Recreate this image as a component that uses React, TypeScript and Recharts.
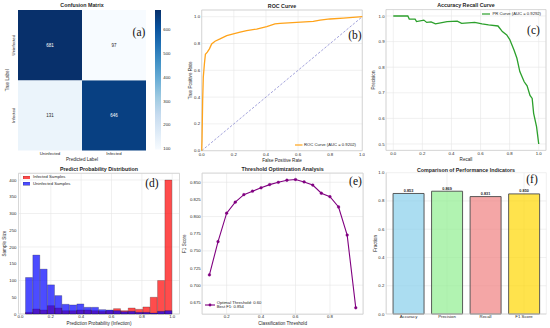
import React from 'react';
import {
  BarChart, Bar, LineChart, Line, XAxis, YAxis, CartesianGrid,
  Cell, LabelList, ReferenceArea, Legend,
} from 'recharts';

const FONT = '"Liberation Sans", Arial, Helvetica, sans-serif';
const TXT = '#262626';
const GRID = '#e6e6e6';
const FRAME = '#d0d0d0';
const TICK_FS = 4.3;
const LABEL_FS = 4.6;
const TITLE_FS = 5.3;
const LEG_FS = 4.2;

// ---------------- (a) confusion matrix ----------------
const cmLabels = ['Uninfected', 'Infected'];
const cmTrueUninfected = [681, 97];
const cmTrueInfected = [131, 646];
const cbMin = 97;
const cbMax = 681;
const cbTicks = [100, 200, 300, 400, 500, 600];

// ---------------- (b) ROC ----------------
const rocFpr = [0, 0.002, 0.006, 0.010, 0.017, 0.023, 0.035, 0.048, 0.062, 0.083, 0.114, 0.156, 0.197, 0.239, 0.280, 0.342, 0.405, 0.456, 0.488, 0.591, 0.695, 0.737, 0.799, 0.882, 1.0];
const rocTpr = [0, 0.08, 0.376, 0.55, 0.65, 0.72, 0.735, 0.76, 0.797, 0.817, 0.834, 0.859, 0.871, 0.884, 0.896, 0.908, 0.926, 0.946, 0.95, 0.958, 0.965, 0.975, 0.983, 0.99, 1.0];
const rocAucText = 'ROC Curve (AUC = 0.9202)';
const unitTicks = [0, 0.2, 0.4, 0.6, 0.8, 1.0];

// ---------------- (c) precision-recall ----------------
const prRecall = [0, 0.01, 0.1, 0.11, 0.15, 0.16, 0.21, 0.23, 0.26, 0.29, 0.37, 0.44, 0.47, 0.56, 0.61, 0.655, 0.72, 0.75, 0.78, 0.80, 0.83, 0.85, 0.87, 0.90, 0.92, 0.94, 0.955, 0.965, 0.985, 1.0];
const prPrecision = [1.0, 1.0, 1.0, 0.988, 0.988, 0.978, 0.984, 0.975, 0.977, 0.969, 0.978, 0.98, 0.971, 0.975, 0.969, 0.965, 0.961, 0.939, 0.926, 0.909, 0.867, 0.835, 0.783, 0.743, 0.727, 0.69, 0.678, 0.62, 0.568, 0.5];
const prAucText = 'PR Curve (AUC = 0.9292)';
const prYTicks = [0.5, 0.6, 0.7, 0.8, 0.9, 1.0];

// ---------------- (d) histogram ----------------
const histBinCenters = [0.0572, 0.1055, 0.1539, 0.2022, 0.2506, 0.2989, 0.3473, 0.3956, 0.4440, 0.4923, 0.5407, 0.5890, 0.6374, 0.6857, 0.7341, 0.7824, 0.8308, 0.8791, 0.9275, 0.9758];
const histInfected = [5, 15, 12, 25, 18, 10, 10, 12, 12, 10, 8, 10, 16, 10, 18, 14, 21, 50, 100, 400];
const histUninfected = [109, 176, 134, 87, 55, 29, 27, 30, 20, 20, 13, 12, 10, 7, 8, 5, 5, 3, 8, 10];
const histYTicks = [0, 50, 100, 150, 200, 250, 300, 350, 400];

// ---------------- (e) threshold ----------------
const thresholds = [0.10, 0.15, 0.20, 0.25, 0.30, 0.35, 0.40, 0.45, 0.50, 0.55, 0.60, 0.65, 0.70, 0.75, 0.80, 0.85, 0.90, 0.95];
const f1Scores = [0.715, 0.7635, 0.805, 0.821, 0.832, 0.837, 0.842, 0.8466, 0.850, 0.853, 0.854, 0.8505, 0.846, 0.834, 0.829, 0.814, 0.773, 0.667];
const thXTicks = [0.2, 0.4, 0.6, 0.8];
const thYTicks = [0.675, 0.700, 0.725, 0.750, 0.775, 0.800, 0.825, 0.850];

// ---------------- (f) metrics ----------------
const metricNames = ['Accuracy', 'Precision', 'Recall', 'F1 Score'];
const metricValues = [0.853, 0.869, 0.831, 0.850];
const metricColors = ['#87ceeb', '#90ee90', '#f08080', '#ffd700'];

// ---------------- helpers ----------------
const bluesStops = ['#f7fbff', '#deebf7', '#c6dbef', '#9ecae1', '#6baed6', '#4292c6', '#2171b5', '#08519c', '#08306b'];
const hexToRgb = (h: string) => [1, 3, 5].map((i) => parseInt(h.slice(i, i + 2), 16));
const blues = (v: number) => {
  const t = Math.max(0, Math.min(1, (v - cbMin) / (cbMax - cbMin)));
  const p = t * (bluesStops.length - 1);
  const i = Math.min(bluesStops.length - 2, Math.floor(p));
  const f = p - i;
  const a = hexToRgb(bluesStops[i]);
  const b = hexToRgb(bluesStops[i + 1]);
  const c = a.map((x, k) => Math.round(x + (b[k] - x) * f));
  return `rgb(${c[0]},${c[1]},${c[2]})`;
};

const tickStyle = { fontSize: TICK_FS, fill: TXT, fontFamily: FONT };
const fmt1 = (v: number) => Number(v).toFixed(1);

const xLabel = (value: string, offset: number) => ({
  value, position: 'insideBottom' as const, offset,
  style: { fontSize: LABEL_FS, fill: TXT, fontFamily: FONT },
});
const yLabel = (value: string, offset: number) => ({
  value, angle: -90, position: 'insideLeft' as const, offset,
  style: { fontSize: LABEL_FS, fill: TXT, fontFamily: FONT, textAnchor: 'middle' as const },
});

const legendProps = (left: number, top: number) => ({
  layout: 'horizontal' as const,
  verticalAlign: 'middle' as const,
  align: 'center' as const,
  wrapperStyle: { position: 'absolute' as const, left, top, width: 'auto', height: 'auto', lineHeight: 1 },
});

// ---------------- (a) chart ----------------
const cmData = cmLabels.map((pred, j) => ({
  pred,
  lowerCell: 1,
  upperCell: 1,
  lowerCount: cmTrueInfected[j],
  upperCount: cmTrueUninfected[j],
}));

const CmYTick = (props: any) => {
  const { x, y, payload } = props;
  const label = payload.value > 1 ? cmLabels[0] : cmLabels[1];
  const bx = x - 1.3;
  return (
    <text x={bx} y={y} transform={`rotate(-90, ${bx}, ${y})`} textAnchor="middle"
      fontSize={TICK_FS} fill={TXT} fontFamily={FONT}>{label}</text>
  );
};

const CmCellLabel = (props: any) => {
  const vb = props.viewBox && props.viewBox.width != null ? props.viewBox : props;
  const cx = vb.x + vb.width / 2;
  const cy = vb.y + vb.height / 2;
  const v = Number(props.value);
  return (
    <text x={cx} y={cy} dy={1.5} textAnchor="middle" fontSize={4.5} fontFamily={FONT}
      fill={v > 400 ? '#ffffff' : TXT}>{v}</text>
  );
};

const ConfusionPanel = () => (
  <BarChart data={cmData} width={152} height={168}
    margin={{ top: 10, right: 6, bottom: 3.5, left: 0 }} barCategoryGap={0}>
    <XAxis dataKey="pred" tickSize={0} tickMargin={1.7} height={14} axisLine={false}
      tick={tickStyle} label={xLabel('Predicted Label', 3.5)} />
    <YAxis type="number" domain={[0, 2]} ticks={[0.5, 1.5]} width={18} tickSize={0}
      axisLine={false} tick={<CmYTick />} label={yLabel('True Label', 7)} />
    <Bar dataKey="lowerCell" stackId="cm" isAnimationActive={false}>
      {cmData.map((d, i) => <Cell key={`l${i}`} fill={blues(d.lowerCount)} />)}
      <LabelList dataKey="lowerCount" content={<CmCellLabel />} />
    </Bar>
    <Bar dataKey="upperCell" stackId="cm" isAnimationActive={false}>
      {cmData.map((d, i) => <Cell key={`u${i}`} fill={blues(d.upperCount)} />)}
      <LabelList dataKey="upperCount" content={<CmCellLabel />} />
    </Bar>
  </BarChart>
);

const cbData = [{ name: 'scale', range: [cbMin, cbMax] }];
const ColorbarPanel = () => (
  <BarChart data={cbData} width={28} height={168}
    margin={{ top: 10, right: 0, bottom: 18.5, left: 3 }} barCategoryGap={0}>
    <defs>
      <linearGradient id="bluesGrad" x1="0" y1="1" x2="0" y2="0">
        {bluesStops.map((c, i) => (
          <stop key={c} offset={`${(i / (bluesStops.length - 1)) * 100}%`} stopColor={c} />
        ))}
      </linearGradient>
    </defs>
    <XAxis dataKey="name" hide />
    <YAxis orientation="right" type="number" domain={[cbMin, cbMax]} ticks={cbTicks} width={19}
      tickSize={0} tickMargin={2.3} axisLine={false} tick={{ ...tickStyle, textAnchor: 'start' }} />
    <Bar dataKey="range" fill="url(#bluesGrad)" isAnimationActive={false} />
  </BarChart>
);

// ---------------- (b) chart ----------------
const rocData = rocFpr.map((x, i) => ({ x, y: rocTpr[i] }));
const diagData = [{ x: 0, y: 0 }, { x: 1, y: 1 }];

const RocLegend = () => (
  <div style={{ display: 'flex', alignItems: 'center', fontSize: LEG_FS, color: TXT, fontFamily: FONT, whiteSpace: 'nowrap' }}>
    <svg width={7.5} height={4}><line x1={0} y1={2} x2={7.5} y2={2} stroke="#ffa31a" strokeWidth={1.2} /></svg>
    <span style={{ marginLeft: 1.5 }}>{rocAucText}</span>
  </div>
);

const RocPanel = () => (
  <LineChart width={185} height={168} margin={{ top: 10, right: 2.7, bottom: 5.3, left: 4.7 }}>
    <CartesianGrid stroke={GRID} strokeWidth={0.6} />
    <XAxis type="number" dataKey="x" domain={[0, 1]} ticks={unitTicks} tickFormatter={fmt1}
      height={12} tickSize={0} tickMargin={1.75} axisLine={false} tick={tickStyle}
      label={xLabel('False Positive Rate', 0.35)} />
    <YAxis type="number" domain={[0, 1.05]} ticks={unitTicks} tickFormatter={fmt1} width={17}
      tickSize={0} tickMargin={1.6} axisLine={false} tick={tickStyle}
      label={yLabel('True Positive Rate', 5.3)} />
    <ReferenceArea x1={0} x2={1} y1={0} y2={1.05} fill="none" stroke={FRAME} strokeWidth={0.8} />
    <Line data={diagData} dataKey="y" stroke="#7b7bcc" strokeWidth={0.7} strokeDasharray="2.5 1.6"
      dot={false} isAnimationActive={false} />
    <Line data={rocData} dataKey="y" stroke="#ffa31a" strokeWidth={1.3} dot={false}
      isAnimationActive={false} />
    <Legend {...legendProps(115, 142.6)} content={() => <RocLegend />} />
  </LineChart>
);

// ---------------- (c) chart ----------------
const prData = prRecall.map((x, i) => ({ x, y: prPrecision[i] }));

const PrLegend = () => (
  <div style={{ display: 'flex', alignItems: 'center', fontSize: LEG_FS, color: TXT, fontFamily: FONT, whiteSpace: 'nowrap' }}>
    <svg width={8.3} height={4}><line x1={0} y1={2} x2={8.3} y2={2} stroke="#2ca02c" strokeWidth={1.2} /></svg>
    <span style={{ marginLeft: 2.5 }}>{prAucText}</span>
  </div>
);

const PrPanel = () => (
  <LineChart width={185} height={168} margin={{ top: 9.6, right: 4, bottom: 5.6, left: 4 }}>
    <CartesianGrid stroke={GRID} strokeWidth={0.6} />
    <XAxis type="number" dataKey="x" domain={[-0.05, 1.05]} ticks={unitTicks} tickFormatter={fmt1}
      height={12} tickSize={0} tickMargin={1.75} axisLine={false} tick={tickStyle}
      label={xLabel('Recall', 1.45)} />
    <YAxis type="number" domain={[0.475, 1.025]} ticks={prYTicks} tickFormatter={fmt1} width={17}
      tickSize={0} tickMargin={1.4} axisLine={false} tick={tickStyle}
      label={yLabel('Precision', 4.3)} />
    <ReferenceArea x1={-0.05} x2={1.05} y1={0.475} y2={1.025} fill="none" stroke={FRAME} strokeWidth={0.8} />
    <Line data={prData} dataKey="y" stroke="#2ca02c" strokeWidth={1.3} dot={false}
      isAnimationActive={false} />
    <Legend {...legendProps(116.7, 12)} content={() => <PrLegend />} />
  </LineChart>
);

// ---------------- (d) chart ----------------
const histData = histBinCenters.map((x, i) => ({ x, infected: histInfected[i], uninfected: histUninfected[i] }));

const HistLegend = () => (
  <div style={{ fontSize: LEG_FS, color: TXT, fontFamily: FONT, whiteSpace: 'nowrap', lineHeight: '6.7px' }}>
    <div style={{ display: 'flex', alignItems: 'center' }}>
      <svg width={7.3} height={3.2}><rect x={0} y={0} width={7.3} height={3.2} fill="red" fillOpacity={0.7} stroke="#000" strokeOpacity={0.6} strokeWidth={0.4} /></svg>
      <span style={{ marginLeft: 3 }}>Infected Samples</span>
    </div>
    <div style={{ display: 'flex', alignItems: 'center' }}>
      <svg width={7.3} height={3.2}><rect x={0} y={0} width={7.3} height={3.2} fill="blue" fillOpacity={0.7} stroke="#000" strokeOpacity={0.6} strokeWidth={0.4} /></svg>
      <span style={{ marginLeft: 3 }}>Uninfected Samples</span>
    </div>
  </div>
);

const HistPanel = () => (
  <BarChart data={histData} width={185} height={168}
    margin={{ top: 13.3, right: 5.5, bottom: 3, left: 2.5 }} barCategoryGap={0} barGap={0}>
    <CartesianGrid xAxisId="a" stroke={GRID} strokeWidth={0.6} />
    <XAxis xAxisId="a" type="number" dataKey="x" domain={[-0.013, 1.048]} ticks={unitTicks}
      tickFormatter={fmt1} height={11} tickSize={0} tickMargin={0.6} axisLine={false} tick={tickStyle}
      label={xLabel('Prediction Probability (Infection)', 0.35)} />
    <XAxis xAxisId="b" type="number" dataKey="x" domain={[-0.013, 1.048]} hide />
    <YAxis type="number" domain={[0, 420]} ticks={histYTicks} width={16} tickSize={0}
      tickMargin={2} axisLine={false} tick={tickStyle} label={yLabel('Sample Size', 1.5)} />
    <ReferenceArea xAxisId="a" x1={-0.013} x2={1.048} y1={0} y2={420} fill="none" stroke={FRAME} strokeWidth={0.8} />
    <Bar xAxisId="a" dataKey="infected" fill="red" fillOpacity={0.7} stroke="#000"
      strokeOpacity={0.55} strokeWidth={0.4} isAnimationActive={false} />
    <Bar xAxisId="b" dataKey="uninfected" fill="blue" fillOpacity={0.7} stroke="#000"
      strokeOpacity={0.55} strokeWidth={0.4} isAnimationActive={false} />
    <Legend {...legendProps(22.7, 14)} content={() => <HistLegend />} />
  </BarChart>
);

// ---------------- (e) chart ----------------
const thData = thresholds.map((x, i) => ({ x, y: f1Scores[i] }));

const ThLegend = () => (
  <div style={{ display: 'flex', alignItems: 'center', fontSize: LEG_FS, color: TXT, fontFamily: FONT, whiteSpace: 'nowrap' }}>
    <svg width={10} height={4}>
      <line x1={0} y1={2} x2={10} y2={2} stroke="#800080" strokeWidth={1.1} />
      <circle cx={5} cy={2} r={1.4} fill="#800080" />
    </svg>
    <div style={{ marginLeft: 1.7, lineHeight: '4px' }}>
      <div>Optimal Threshold: 0.60</div>
      <div>Best F1: 0.854</div>
    </div>
  </div>
);

const ThresholdPanel = () => (
  <LineChart width={185} height={168} margin={{ top: 13.1, right: 1.9, bottom: 2.8, left: 2.1 }}>
    <CartesianGrid stroke={GRID} strokeWidth={0.6} />
    <XAxis type="number" dataKey="x" domain={[0.0575, 0.9925]} ticks={thXTicks} tickFormatter={fmt1}
      height={11} tickSize={0} tickMargin={0.95} axisLine={false} tick={tickStyle}
      label={xLabel('Classification Threshold', 0.2)} />
    <YAxis type="number" domain={[0.6577, 0.8634]} ticks={thYTicks}
      tickFormatter={(v: number) => Number(v).toFixed(3)} width={20} tickSize={0} tickMargin={1.4}
      axisLine={false} tick={tickStyle} label={yLabel('F1 Score', 1.9)} />
    <ReferenceArea x1={0.0575} x2={0.9925} y1={0.6577} y2={0.8634} fill="none" stroke={FRAME} strokeWidth={0.8} />
    <Line data={thData} dataKey="y" stroke="#800080" strokeWidth={1.1}
      dot={{ r: 1.4, fill: '#800080', stroke: '#800080', strokeWidth: 0.3 }} isAnimationActive={false} />
    <Legend {...legendProps(25, 141.3)} content={() => <ThLegend />} />
  </LineChart>
);

// ---------------- (f) chart ----------------
const metricData = metricNames.map((name, i) => ({ name, value: metricValues[i] }));

const MetricsPanel = () => (
  <BarChart data={metricData} width={185} height={168}
    margin={{ top: 12.7, right: 3.7, bottom: 3, left: 5.2 }} barCategoryGap="10%">
    <CartesianGrid stroke={GRID} strokeWidth={0.6} />
    <XAxis dataKey="name" padding={{ left: 3, right: 3 }} height={11} tickSize={0} tickMargin={1.15}
      axisLine={{ stroke: FRAME, strokeWidth: 0.8 }} tick={tickStyle} />
    <XAxis xAxisId="top" orientation="top" dataKey="name" height={0} tick={false}
      axisLine={{ stroke: FRAME, strokeWidth: 0.8 }} />
    <YAxis type="number" domain={[0, 1]} ticks={unitTicks} tickFormatter={fmt1} width={16}
      tickSize={0} tickMargin={1.9} axisLine={{ stroke: FRAME, strokeWidth: 0.8 }} tick={tickStyle}
      label={yLabel('Fraction', 4.8)} />
    <YAxis yAxisId="right" orientation="right" type="number" domain={[0, 1]} width={0} tick={false}
      axisLine={{ stroke: FRAME, strokeWidth: 0.8 }} />
    <Bar dataKey="value" stroke="#4a4a4a" strokeWidth={0.9} isAnimationActive={false}>
      {metricData.map((d, i) => <Cell key={d.name} fill={metricColors[i]} fillOpacity={0.7} />)}
      <LabelList dataKey="value" position="top" offset={1.6}
        formatter={(v: any) => Number(v).toFixed(3)}
        style={{ fontSize: 3.8, fontWeight: 'bold', fill: TXT, fontFamily: FONT }} />
    </Bar>
  </BarChart>
);

// ---------------- overlays ----------------
const Title = ({ cx, cy, text }: { cx: number; cy: number; text: string }) => (
  <div style={{
    position: 'absolute', left: cx - 100, top: cy - TITLE_FS * 0.6, width: 200, textAlign: 'center',
    fontSize: TITLE_FS, fontWeight: 'bold', lineHeight: 1.2, color: TXT, whiteSpace: 'nowrap', fontFamily: FONT,
  }}>{text}</div>
);

const Letter = ({ cx, cy, text }: { cx: number; cy: number; text: string }) => (
  <div style={{
    position: 'absolute', left: cx - 20, top: cy - 6.3, width: 40, textAlign: 'center',
    fontSize: 11.5, lineHeight: 1.1, color: '#111', fontFamily: '"Liberation Serif", "Times New Roman", serif',
  }}>{text}</div>
);

const Panel = ({ left, top, children }: { left: number; top: number; children: React.ReactNode }) => (
  <div style={{ position: 'absolute', left, top }}>{children}</div>
);

export default function App() {
  return (
    <div style={{
      position: 'absolute', left: 0, top: 0, width: 550, height: 328, background: '#ffffff',
      overflow: 'hidden', fontFamily: FONT,
    }}>
      <Panel left={0} top={0}><ConfusionPanel /></Panel>
      <Panel left={152} top={0}><ColorbarPanel /></Panel>
      <Panel left={180} top={0}><RocPanel /></Panel>
      <Panel left={365} top={0}><PrPanel /></Panel>
      <Panel left={0} top={160}><HistPanel /></Panel>
      <Panel left={180} top={160}><ThresholdPanel /></Panel>
      <Panel left={365} top={160}><MetricsPanel /></Panel>

      <Title cx={82} cy={5} text="Confusion Matrix" />
      <Title cx={282} cy={6} text="ROC Curve" />
      <Title cx={466} cy={5} text="Accuracy Recall Curve" />
      <Title cx={99} cy={169.3} text="Predict Probability Distribution" />
      <Title cx={282.6} cy={169.3} text="Threshold Optimization Analysis" />
      <Title cx={466} cy={170} text="Comparison of Performance Indicators" />

      <Letter cx={139} cy={32} text="(a)" />
      <Letter cx={355} cy={35} text="(b)" />
      <Letter cx={533.5} cy={30} text="(c)" />
      <Letter cx={152} cy={183} text="(d)" />
      <Letter cx={355.5} cy={181.7} text="(e)" />
      <Letter cx={532} cy={179.3} text="(f)" />
    </div>
  );
}
